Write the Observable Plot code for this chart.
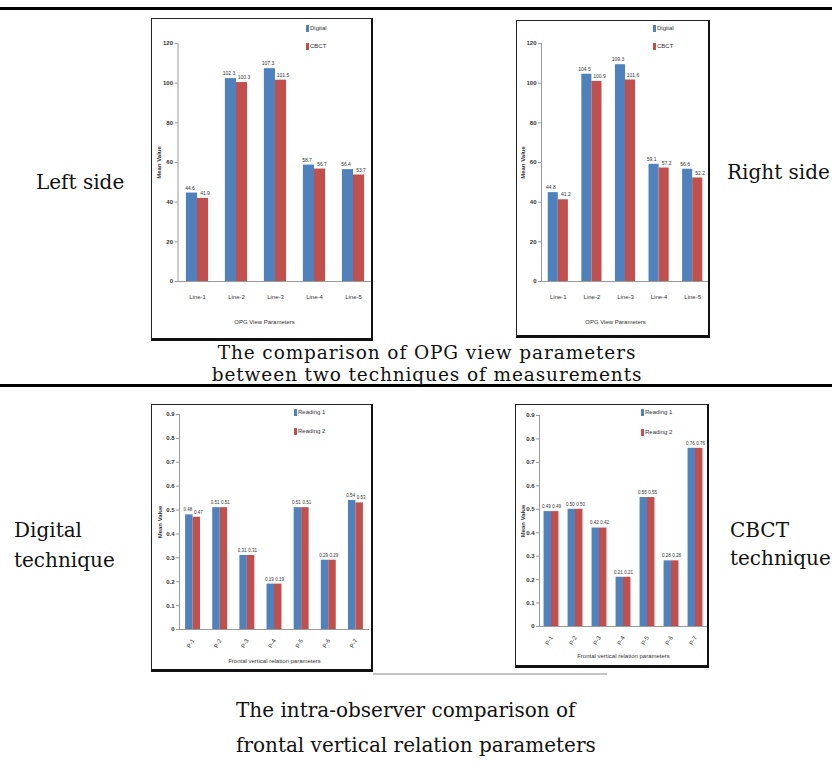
<!DOCTYPE html>
<html><head><meta charset="utf-8">
<script src="https://cdn.jsdelivr.net/npm/d3@7"></script>
<script src="https://cdn.jsdelivr.net/npm/@observablehq/plot@0.6"></script>
<style>
html,body{margin:0;padding:0;background:#fff;}
#page{position:relative;width:832px;height:762px;overflow:hidden;background:#fff;font-family:"DejaVu Serif",serif;color:#111;}
.t{position:absolute;font-size:20px;line-height:24px;white-space:nowrap;}
.hr{position:absolute;left:0;width:832px;background:#000;}
.box{position:absolute;box-sizing:border-box;border-left:1.5px solid #222;border-top:1.5px solid #222;border-right:2.5px solid #111;border-bottom:3px solid #111;pointer-events:none;}
.leg{position:absolute;font-family:"Liberation Sans",sans-serif;font-size:6px;line-height:8px;color:#333;white-space:nowrap;}
.leg i{display:inline-block;width:3px;height:7px;margin-right:1px;vertical-align:middle;}
</style></head><body><div id="page"></div>
<script>
// ---- data ----
const opgLines = ["Line-1", "Line-2", "Line-3", "Line-4", "Line-5"];
const leftDigital = [44.6, 102.3, 107.3, 58.7, 56.4];
const leftCBCT = [41.9, 100.3, 101.5, 56.7, 53.7];
const rightDigital = [44.8, 104.5, 109.3, 59.1, 56.6];
const rightCBCT = [41.2, 100.9, 101.6, 57.2, 52.2];
const opgTicks = [0, 20, 40, 60, 80, 100, 120];
const opgSeries = ["Digital", "CBCT"];

const frontalParams = ["P-1", "P-2", "P-3", "P-4", "P-5", "P-6", "P-7"];
const digitalReading1 = [0.48, 0.51, 0.31, 0.19, 0.51, 0.29, 0.54];
const digitalReading2 = [0.47, 0.51, 0.31, 0.19, 0.51, 0.29, 0.53];
const cbctReading1 = [0.49, 0.50, 0.42, 0.21, 0.55, 0.28, 0.76];
const cbctReading2 = [0.49, 0.50, 0.42, 0.21, 0.55, 0.28, 0.76];
const frontalTicks = [0, 0.1, 0.2, 0.3, 0.4, 0.5, 0.6, 0.7, 0.8, 0.9];
const frontalTickLabels = ["0", "0.1", "0.2", "0.3", "0.4", "0.5", "0.6", "0.7", "0.8", "0.9"];
const readingSeries = ["Reading 1", "Reading 2"];

const BLUE = "#4f81bd", RED = "#c0504d";
const page = document.getElementById("page");

function addDiv(cls, style, html) {
  const d = document.createElement("div");
  d.className = cls;
  Object.assign(d.style, style);
  if (html != null) d.innerHTML = html;
  page.appendChild(d);
  return d;
}

// rules
addDiv("hr", {top: "7px", height: "3px"});
addDiv("hr", {top: "384px", height: "3px"});
addDiv("", {position: "absolute", left: "373px", top: "673px", width: "234px", height: "1.5px", background: "#c4c4c4"});

function chart(cfg) {
  const {cats, a, b, names, yMax, ticks, tickLabels, xLabel, fmt, box, m, pad, rotate, tickPad, titleDy, titleDx, labelOffset, legend, valueSize, valueGap} = cfg;
  const data = cats.map((c, i) => ({c, a: a[i], b: b[i]}));
  const plotW = box.w - m.l - m.r;
  const bw = (plotW / cats.length) * (1 - pad);
  const half = bw / 2;
  const svg = Plot.plot({
    width: box.w, height: box.h,
    marginLeft: m.l, marginRight: m.r, marginTop: m.t, marginBottom: m.b,
    style: {fontFamily: "Liberation Sans, sans-serif", fontSize: "6px", color: "#333", background: "transparent", overflow: "visible"},
    x: {domain: cats, paddingInner: pad, paddingOuter: pad / 2, round: false, axis: null},
    y: {domain: [0, yMax], axis: null},
    marks: [
      Plot.barY(data, {x: "c", y: "a", fill: BLUE, insetRight: half}),
      Plot.barY(data, {x: "c", y: "b", fill: RED, insetLeft: half}),
      Plot.ruleY([0], {stroke: "#9a9a9a"}),
      Plot.frame({anchor: "left", stroke: "#9a9a9a"}),
      Plot.axisY({ticks, tickSize: 3, tickPadding: 2, stroke: "#9a9a9a",
        tickFormat: (d) => tickLabels[ticks.indexOf(d)] ?? String(d),
        label: "Mean Value", labelAnchor: "center", labelOffset, labelArrow: "none", fontWeight: "bold"}),
      Plot.axisX({tickSize: 0, tickPadding: tickPad, tickRotate: rotate, label: null}),
      Plot.text(data, {x: "c", y: "a", text: (d) => fmt(d.a), dx: -valueGap, dy: -5, fill: "#333", fontSize: valueSize}),
      Plot.text(data, {x: "c", y: "b", text: (d) => fmt(d.b), dx: valueGap, dy: -5, fill: "#333", fontSize: valueSize}),
      Plot.text([xLabel], {frameAnchor: "bottom", dy: titleDy, dx: titleDx, fill: "#333"})
    ]
  });
  svg.style.position = "absolute";
  svg.style.left = box.x + "px";
  svg.style.top = box.y + "px";
  page.appendChild(svg);
  addDiv("box", {left: box.x + "px", top: box.y + "px", width: box.w + "px", height: box.h + "px"});
  names.forEach((n, i) => {
    addDiv("leg", {left: legend.x + "px", top: (legend.y + i * legend.step) + "px"},
      `<i style="background:${i === 0 ? BLUE : RED}"></i>${n}`);
  });
}

chart({cats: opgLines, a: leftDigital, b: leftCBCT, names: opgSeries, yMax: 120, ticks: opgTicks, tickLabels: opgTicks.map(String),
  xLabel: "OPG View Parameters", fmt: d3.format(".1f"),
  box: {x: 151, y: 18, w: 222, h: 323}, m: {l: 26.5, r: 0.5, t: 25, b: 60}, pad: 0.43, rotate: 0, tickPad: 13,
  titleDy: 42, titleDx: -11, labelOffset: 21, legend: {x: 306, y: 24, step: 18}, valueSize: 5, valueGap: 7.5});

chart({cats: opgLines, a: rightDigital, b: rightCBCT, names: opgSeries, yMax: 120, ticks: opgTicks, tickLabels: opgTicks.map(String),
  xLabel: "OPG View Parameters", fmt: d3.format(".1f"),
  box: {x: 516, y: 20, w: 194, h: 318}, m: {l: 25, r: 1, t: 23, b: 57}, pad: 0.4, rotate: 0, tickPad: 13,
  titleDy: 42, titleDx: -10, labelOffset: 21, legend: {x: 653, y: 24, step: 18}, valueSize: 5, valueGap: 7.5});

chart({cats: frontalParams, a: digitalReading1, b: digitalReading2, names: readingSeries, yMax: 0.9, ticks: frontalTicks, tickLabels: frontalTickLabels,
  xLabel: "Frontal vertical relation parameters", fmt: d3.format(".2f"),
  box: {x: 151, y: 404, w: 222, h: 268}, m: {l: 28, r: 4, t: 10, b: 43}, pad: 0.45, rotate: -60, tickPad: 10,
  titleDy: 33, titleDx: 0, labelOffset: 22, legend: {x: 294, y: 408, step: 19}, valueSize: 4.5, valueGap: 5.2});

chart({cats: frontalParams, a: cbctReading1, b: cbctReading2, names: readingSeries, yMax: 0.9, ticks: frontalTicks, tickLabels: frontalTickLabels,
  xLabel: "Frontal vertical relation parameters", fmt: d3.format(".2f"),
  box: {x: 515, y: 404, w: 194, h: 264}, m: {l: 24, r: 2, t: 11, b: 42}, pad: 0.38, rotate: -60, tickPad: 10,
  titleDy: 31, titleDx: 0, labelOffset: 19, legend: {x: 641, y: 408, step: 20}, valueSize: 4.5, valueGap: 5.2});

// texts
function text(str, left, cy, center, lh, size, ls) {
  lh = lh || 24;
  const d = addDiv("t", {left: left + "px", top: (cy - lh / 2) + "px", lineHeight: lh + "px"}, str);
  if (size) d.style.fontSize = size + "px";
  if (ls) d.style.letterSpacing = ls + "px";
  if (center) d.style.transform = "translateX(-50%)";
  return d;
}
text("Left side", 36, 182);
text("Right side", 727, 172);
text("The comparison of OPG view parameters", 427, 352.5, true, 20, 18.5, 0.9);
text("between two techniques of measurements", 427, 374.5, true, 20, 18.5, 0.9);
text("Digital", 14, 530);
text("technique", 14, 560);
text("CBCT", 730, 530);
text("technique", 730, 558);
text("The intra-observer comparison of", 236, 710);
text("frontal vertical relation parameters", 236, 745);
</script></body></html>
